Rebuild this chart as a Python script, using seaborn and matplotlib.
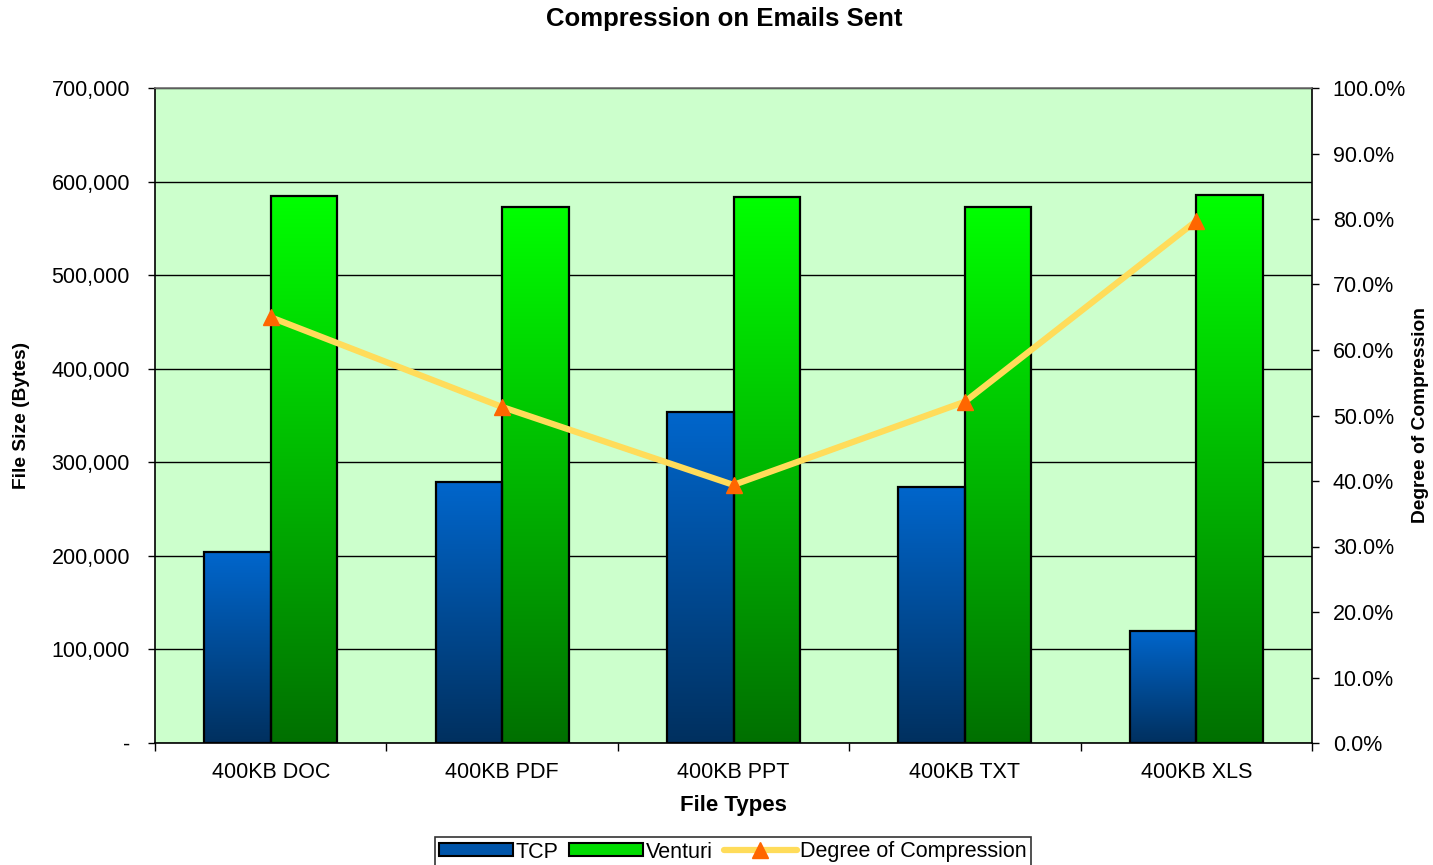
import numpy as np
import pandas as pd
import seaborn as sns
import matplotlib.pyplot as plt
from matplotlib.patches import Patch
from matplotlib.lines import Line2D
from matplotlib.ticker import FuncFormatter, FixedLocator

categories = ["400KB DOC", "400KB PDF", "400KB PPT", "400KB TXT", "400KB XLS"]
tcp = [204000, 279000, 354000, 274000, 120000]
venturi = [585000, 573000, 583000, 573000, 586000]
degree = [0.650, 0.513, 0.394, 0.521, 0.797]

sns.set_theme(style="white")
plt.rcParams['font.family'] = ['Liberation Sans', 'DejaVu Sans']
plt.rcParams['text.color'] = 'black'
plt.rcParams['axes.labelcolor'] = 'black'
plt.rcParams['xtick.color'] = 'black'
plt.rcParams['ytick.color'] = 'black'

df = pd.DataFrame({
    "File Types": categories * 2,
    "Bytes": tcp + venturi,
    "Series": ["TCP"] * len(categories) + ["Venturi"] * len(categories),
})

W, H = 1433, 865
fig = plt.figure(figsize=(W / 100, H / 100), dpi=100)
fig.patch.set_facecolor("white")
ax = fig.add_axes([155 / W, (H - 743) / H, (1312 - 155) / W, (743 - 88) / H])
ax.set_facecolor("#CCFFCC")

grad = {"TCP": ("#0066CC", "#00305F"), "Venturi": ("#00FF00", "#007000")}
sns.barplot(data=df, x="File Types", y="Bytes", hue="Series",
            palette={"TCP": "#0055AA", "Venturi": "#00C000"},
            width=0.575, edgecolor="black", linewidth=1.6, ax=ax,
            legend=False, zorder=3)

def hex2rgb(h):
    h = h.lstrip("#")
    return np.array([int(h[i:i + 2], 16) / 255 for i in (0, 2, 4)])

n = len(categories)
for i, p in enumerate(ax.patches[:2 * n]):
    series = "TCP" if i < n else "Venturi"
    top, bot = hex2rgb(grad[series][0]), hex2rgb(grad[series][1])
    t = np.linspace(0, 1, 256)[:, None]
    img = (top[None, :] * (1 - t) + bot[None, :] * t)[:, None, :]
    x0, y0 = p.get_x(), p.get_y()
    w, h = p.get_width(), p.get_height()
    ax.imshow(img, extent=(x0, x0 + w, y0, y0 + h), aspect="auto",
              origin="upper", zorder=2.9, interpolation="bilinear")
    p.set_facecolor("none")

ax.set_xlim(-0.5, n - 0.5)
ax.set_ylim(0, 700000)
ax.yaxis.set_major_locator(FixedLocator(np.arange(0, 700001, 100000)))
ax.yaxis.set_major_formatter(FuncFormatter(lambda v, pos: "-" if v == 0 else f"{int(v):,}"))
ax.grid(axis="y", color="black", linewidth=1.0, zorder=0)
ax.set_axisbelow(True)
ax.tick_params(axis="y", which="major", direction="out", length=5, width=1,
               labelsize=15.5, colors="black", left=True, pad=13)
ax.set_xticks(range(n))
ax.set_xticklabels(categories)
ax.tick_params(axis="x", which="major", length=0, labelsize=15.5, pad=14)
ax.set_xticks(np.arange(-0.5, n, 1.0), minor=True)
ax.tick_params(axis="x", which="minor", direction="out", length=6, width=1,
               bottom=True, color="black")
ax.set_xlabel("File Types", fontsize=16, fontweight="bold", labelpad=8)
ax.set_ylabel("File Size (Bytes)", fontsize=13.8, fontweight="bold")
ax.yaxis.set_label_coords((30 - 155) / 1157, 0.5)
for s in ["left", "bottom", "right"]:
    ax.spines[s].set_color("black")
    ax.spines[s].set_linewidth(1.2)
ax.spines["top"].set_color("#707070")
ax.spines["top"].set_linewidth(1.2)

ax2 = ax.twinx()
xs = np.arange(n)
sns.lineplot(x=xs, y=degree, ax=ax2, color="#FFDC5A", linewidth=4.5,
             zorder=5, legend=False)
ax2.plot(xs, degree, linestyle="none", marker="^", markersize=11,
         markerfacecolor="#FF6600", markeredgecolor="#FF6600", zorder=6)
ax2.set_ylim(0, 1)
ax2.yaxis.set_major_locator(FixedLocator(np.arange(0, 1.0001, 0.1)))
ax2.yaxis.set_major_formatter(FuncFormatter(lambda v, pos: f"{v * 100:.1f}%"))
ax2.tick_params(axis="y", direction="out", length=5, width=1, labelsize=15.5,
                colors="black", right=True, pad=10)
ax2.set_ylabel("Degree of Compression", fontsize=13.8, fontweight="bold")
ax2.yaxis.set_label_coords((1412 - 155) / 1157, 0.5)
for s in ax2.spines.values():
    s.set_visible(False)
ax2.set_xlim(-0.5, n - 0.5)

fig.text(724 / W, 1 - 19 / H, "Compression on Emails Sent", ha="center",
         va="center", fontsize=18.5, fontweight="bold")

handles = [
    Patch(facecolor="#0055AA", edgecolor="black", linewidth=1.5, label="TCP"),
    Patch(facecolor="#00DD00", edgecolor="black", linewidth=1.5, label="Venturi"),
    Line2D([0], [0], color="#FFDC5A", linewidth=4.5, marker="^", markersize=11,
           markerfacecolor="#FF6600", markeredgecolor="#FF6600",
           label="Degree of Compression"),
]
leg = fig.legend(handles=handles, loc="center", bbox_to_anchor=(733 / W, 1 - 852 / H),
                 ncol=3, fontsize=15.5, frameon=True, fancybox=False,
                 edgecolor="black", handlelength=3.4, handleheight=0.55,
                 handletextpad=0.15, columnspacing=0.5, borderpad=0.2,
                 borderaxespad=0)
leg.get_frame().set_linewidth(1.2)

fig.savefig("out.png", dpi=100, facecolor="white")
